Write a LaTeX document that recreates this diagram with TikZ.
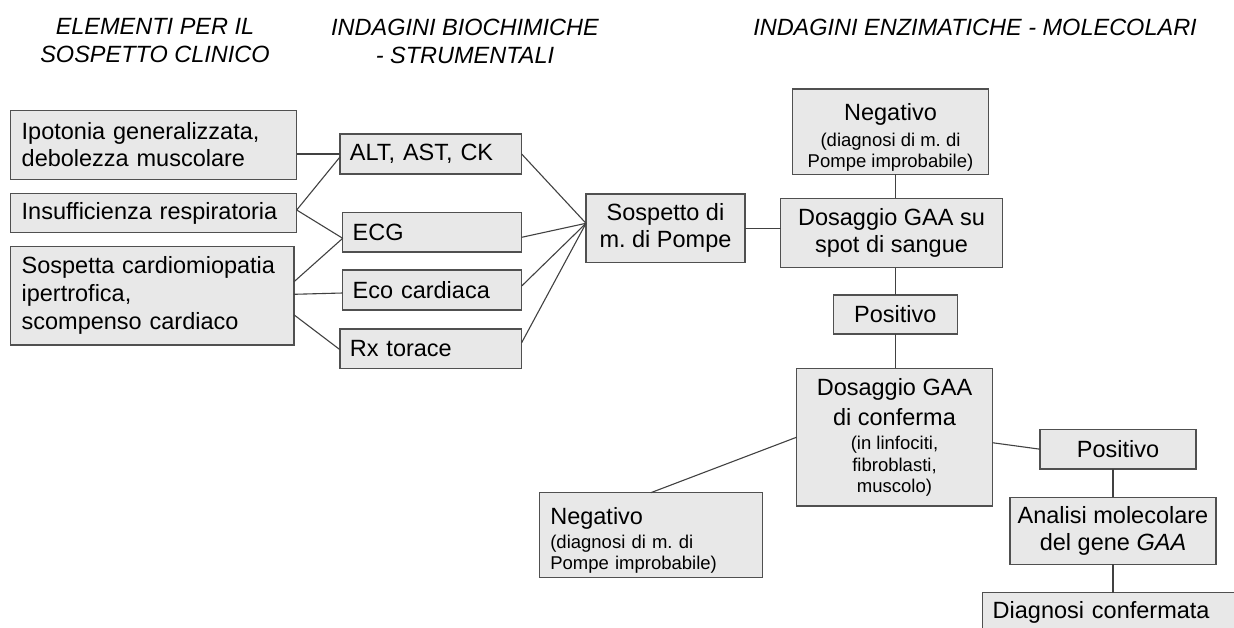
\documentclass[tikz,border=0pt]{standalone}
\usepackage{fontspec}
\setmainfont{Liberation Sans}
\usetikzlibrary{calc}
\frenchspacing
\definecolor{boxgray}{RGB}{232,232,232}
\definecolor{bordergray}{RGB}{80,80,80}
\definecolor{linegray}{RGB}{65,65,65}
\newcommand{\bigf}{\fontsize{23.5}{27}\selectfont}
\newcommand{\smallf}{\fontsize{18.5}{21}\selectfont}
\begin{document}
\begin{tikzpicture}[x=1pt,y=-1pt,
  box/.style={draw=bordergray, fill=boxgray, line width=1.2pt, inner sep=0pt, outer sep=0pt, font=\bigf, align=center},
  lbox/.style={box, align=left, inner xsep=11pt},
  conn/.style={draw=linegray, line width=1.1pt},
  title/.style={font=\bigf\itshape, align=center, inner sep=0pt}]
\useasboundingbox (0,0) rectangle (1234,628);
\clip (0,0) rectangle (1234,628);

% titles
\node[title] (t1) at (155,41) {ELEMENTI PER IL\\[1pt]SOSPETTO CLINICO};
\node[title] (t2) at (465,41) {INDAGINI BIOCHIMICHE\\[1pt]- STRUMENTALI};
\node[title] (t3) at (975,27) {INDAGINI ENZIMATICHE - MOLECOLARI};

% left column
\node[lbox, text width=264pt, minimum height=68.6pt] (A) at (153.7,145) {Ipotonia generalizzata,\\debolezza muscolare};
\node[lbox, text width=264pt, minimum height=39.4pt] (B) at (153.7,213) {Insufficienza respiratoria};
\node[lbox, text width=261.3pt, minimum height=98.3pt] (C) at (152.3,295.8) {Sospetta cardiomiopatia\\[1pt]ipertrofica,\\[1pt]scompenso cardiaco};

% middle column
\node[lbox, inner xsep=10pt, text width=161.7pt, minimum height=40pt] (ALT) at (430.8,154) {ALT, AST, CK};
\node[lbox, inner xsep=10pt, text width=159pt, minimum height=39.3pt] (ECG) at (432.2,232.3) {ECG};
\node[lbox, inner xsep=10pt, text width=159pt, minimum height=40pt] (Eco) at (432.2,290) {Eco cardiaca};
\node[lbox, inner xsep=10pt, text width=161.7pt, minimum height=39.3pt] (Rx) at (430.8,348.7) {Rx torace};

% right part
\node[box, minimum width=159pt, minimum height=68.7pt] (Sosp) at (665.5,228.3) {Sospetto di\\m. di Pompe};
\node[box, font=\smallf, minimum width=195.6pt, minimum height=85.3pt] (NegT) at (890.5,131.7) {{\bigf\rule{0pt}{28pt}Negativo}\\[5pt](diagnosi di m. di\\Pompe improbabile)};
\node[box, minimum width=221.6pt, minimum height=69.4pt] (Dos1) at (891.5,233) {Dosaggio GAA su\\spot di sangue};
\node[box, minimum width=124pt, minimum height=39pt] (Pos1) at (895.3,314.5) {Positivo};
\node[box, font=\smallf, minimum width=195.6pt, minimum height=137.7pt] (Dos2) at (894.5,437.2) {{\bigf Dosaggio GAA}\\[7pt]{\bigf di conferma}\\[3pt](in linfociti,\\[1pt]fibroblasti,\\muscolo)};
\node[box, minimum width=156pt, minimum height=39.7pt] (Pos2) at (1118,449.2) {Positivo};
\node[box, minimum width=206pt, minimum height=67pt] (Ana) at (1113,530.8) {Analisi molecolare\\del gene \textit{GAA}};
\node[lbox, inner xsep=10pt, text width=250pt, minimum height=39.4pt, anchor=west] (Diag) at (982.7,612.4) {Diagnosi confermata};
\node[lbox, font=\smallf, text width=201pt, minimum height=85pt] (Neg2) at (650.8,535.2) {{\bigf\rule{0pt}{27pt}Negativo}\\[3pt](diagnosi di m. di\\Pompe improbabile)};

% connectors
\coordinate (conv) at ([yshift=5pt]Sosp.west);
\draw[conn] (A.east |- ALT.west) -- (ALT.west);
\draw[conn] ([yshift=3pt]B.east) -- ([yshift=-3pt]ALT.west);
\draw[conn] ([yshift=3pt]B.east) -- ([yshift=-6pt]ECG.west);
\draw[conn] ([yshift=14pt]C.east) -- ([yshift=-6pt]ECG.west);
\draw[conn] ([yshift=1.5pt]C.east) -- ([yshift=-3pt]Eco.west);
\draw[conn] ([yshift=-19pt]C.east) -- ([yshift=-1pt]Rx.west);
\draw[conn] (ALT.east) -- (conv);
\draw[conn] ([yshift=-5pt]ECG.east) -- (conv);
\draw[conn] ([yshift=4pt]Eco.east) -- (conv);
\draw[conn] ([yshift=6pt]Rx.east) -- (conv);
\draw[conn] (Sosp.east) -- (Sosp.east -| Dos1.west);
\draw[conn] (NegT.south -| Pos1) -- (Dos1.north -| Pos1);
\draw[conn] (Dos1.south -| Pos1) -- (Pos1.north);
\draw[conn] (Pos1.south) -- (Dos2.north -| Pos1);
\draw[conn] (Dos2.west) -- (Neg2.north);
\draw[conn] ([yshift=-5.5pt]Dos2.east) -- (Pos2.west);
\draw[conn] (Pos2.south -| Ana) -- (Ana.north);
\draw[conn] (Ana.south) -- (Diag.north -| Ana);
\end{tikzpicture}
\end{document}
